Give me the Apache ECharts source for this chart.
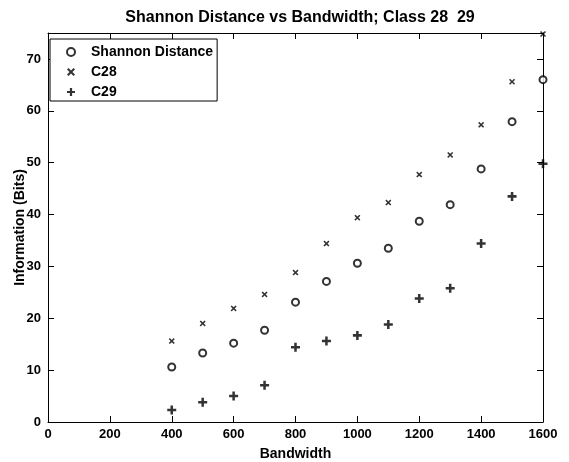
<!DOCTYPE html>
<html><head><meta charset="utf-8">
<script src="https://cdn.jsdelivr.net/npm/echarts@6/dist/echarts.min.js"></script>
<style>html,body{margin:0;padding:0;background:#fff}#c{width:569px;height:462px}</style>
</head><body><div id="c"></div>
<script>
const bandwidth = [400,500,600,700,800,900,1000,1100,1200,1300,1400,1500,1600];
const shannon = [10.6,13.3,15.2,17.7,23.1,27.1,30.6,33.5,38.7,41.9,48.8,57.9,66.0];
const c28 = [15.6,19.0,21.9,24.6,28.8,34.4,39.4,42.3,47.7,51.5,57.3,65.6,74.8];
const c29 = [2.3,3.8,5.0,7.1,14.4,15.6,16.7,18.8,23.8,25.8,34.4,43.5,49.8];
const seriesNames = ['Shannon Distance','C28','C29'];

const plusPath = 'path://M3.6,0 H6.4 V3.6 H10 V6.4 H6.4 V10 H3.6 V6.4 H0 V3.6 H3.6 Z';
const crossPath = 'path://M0,1.8 L1.8,0 L5,3.2 L8.2,0 L10,1.8 L6.8,5 L10,8.2 L8.2,10 L5,6.8 L1.8,10 L0,8.2 L3.2,5 Z';
const font = 'Liberation Sans, Arial, sans-serif';
function pairs(ys){return bandwidth.map((x,i)=>[x,ys[i]]);}

const chart = echarts.init(document.getElementById('c'), null, {renderer:'canvas'});
chart.setOption({
  animation:false,
  backgroundColor:'#fff',
  title:{text:'Shannon Distance vs Bandwidth; Class 28  29',left:295,textAlign:'center',top:5,
    textStyle:{fontFamily:font,fontWeight:'bold',fontSize:16,color:'#000'}},
  grid:{left:48,right:26,top:33,bottom:40,containLabel:false,outerBoundsMode:'none'},
  legend:{orient:'vertical',left:50,top:39,padding:[6,4,2,16],itemGap:6,itemWidth:8,itemHeight:8,
    backgroundColor:'#fff',borderColor:'#000',borderWidth:1,borderRadius:0,
    textStyle:{fontFamily:font,fontWeight:'bold',fontSize:14,color:'#000',padding:[0,0,0,11]},
    data:[{name:seriesNames[0],icon:'emptyCircle'},
          {name:seriesNames[1],icon:crossPath},{name:seriesNames[2],icon:plusPath}]},
  xAxis:[{type:'value',min:0,max:1600,interval:200,name:'Bandwidth',nameLocation:'middle',nameGap:25,nameMoveOverlap:false,
    nameTextStyle:{fontFamily:font,fontWeight:'bold',fontSize:14,color:'#000'},
    axisLine:{onZero:false,lineStyle:{color:'#000',width:1}},axisTick:{inside:true,length:6,lineStyle:{color:'#000'}},
    axisLabel:{fontFamily:font,fontWeight:'bold',fontSize:13,color:'#000',margin:6,formatter:v=>String(v)},splitLine:{show:false}},
    {type:'value',position:'top',min:0,max:1600,interval:200,axisLine:{onZero:false,lineStyle:{color:'#000'}},
    axisTick:{inside:true,length:6,lineStyle:{color:'#000'}},axisLabel:{show:false},splitLine:{show:false}}],
  yAxis:[{type:'value',min:0,max:75,interval:10,name:'Information (Bits)',nameLocation:'middle',nameGap:21,nameMoveOverlap:false,
    nameTextStyle:{fontFamily:font,fontWeight:'bold',fontSize:14,color:'#000'},
    axisLine:{show:true,onZero:false,lineStyle:{color:'#000'}},axisTick:{inside:true,length:6,lineStyle:{color:'#000'}},
    axisLabel:{fontFamily:font,fontWeight:'bold',fontSize:13,color:'#000',margin:7,
      formatter:v=>v%10===0?String(v):''},splitLine:{show:false}},
    {type:'value',position:'right',min:0,max:75,interval:10,axisLine:{show:true,onZero:false,lineStyle:{color:'#000'}},
    axisTick:{inside:true,length:6,lineStyle:{color:'#000'}},axisLabel:{show:false},splitLine:{show:false}}],
  series:[
    {name:seriesNames[0],type:'scatter',data:pairs(shannon),symbol:'emptyCircle',symbolSize:7,
      itemStyle:{color:'#000',borderColor:'#000',borderWidth:2}},
    {name:seriesNames[1],type:'scatter',data:pairs(c28),symbol:crossPath,symbolSize:6,itemStyle:{color:'#000'}},
    {name:seriesNames[2],type:'scatter',data:pairs(c29),symbol:plusPath,symbolSize:9,itemStyle:{color:'#000'}}
  ]
});
</script></body></html>
